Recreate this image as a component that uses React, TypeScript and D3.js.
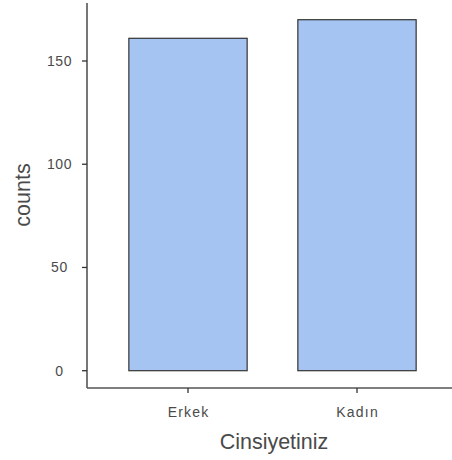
import { scaleBand, scaleLinear } from 'd3';

const categories = ['Erkek', 'Kadın'];
const counts = [161, 170];
const yTicks = [0, 50, 100, 150];

const width = 452;
const height = 460;
const axisX = 87;
const axisY = 388;

export default function App() {
  const xScale = scaleBand<string>()
    .domain(categories)
    .range([103.5, 441.5])
    .paddingInner(0.3)
    .paddingOuter(0.15);

  const yScale = scaleLinear().domain([0, 150]).range([370.7, 61]);

  const font = '"Liberation Sans", Arial, sans-serif';

  return (
    <svg
      width={width}
      height={height}
      viewBox={`0 0 ${width} ${height}`}
      style={{ position: 'absolute', left: 0, top: 0, background: '#ffffff' }}
      fontFamily={font}
    >
      {categories.map((cat, i) => {
        const x = xScale(cat) ?? 0;
        const y = yScale(counts[i]);
        return (
          <rect
            key={cat}
            x={x}
            y={y}
            width={xScale.bandwidth()}
            height={yScale(0) - y}
            fill="#a6c4f1"
            stroke="#333333"
            strokeWidth={1.2}
          />
        );
      })}

      {/* y axis */}
      <line x1={axisX} x2={axisX} y1={3} y2={axisY} stroke="#555555" strokeWidth={1.6} />
      {yTicks.map(tick => (
        <g key={tick}>
          <line x1={axisX - 5} x2={axisX} y1={yScale(tick)} y2={yScale(tick)} stroke="#333333" strokeWidth={1.3} />
          <text x={59.5} y={yScale(tick) + 5} textAnchor="middle" fontSize={14} fill="#4a4a4a" letterSpacing={0.6}>
            {tick}
          </text>
        </g>
      ))}

      {/* x axis */}
      <line x1={axisX} x2={width} y1={axisY} y2={axisY} stroke="#555555" strokeWidth={1.6} />
      {categories.map(cat => {
        const cx = (xScale(cat) ?? 0) + xScale.bandwidth() / 2;
        return (
          <g key={cat}>
            <line x1={cx} x2={cx} y1={axisY} y2={axisY + 5} stroke="#333333" strokeWidth={1.3} />
            <text x={cx + 0.6} y={417} textAnchor="middle" fontSize={14} fill="#4a4a4a" letterSpacing={1.2}>
              {cat}
            </text>
          </g>
        );
      })}

      <text x={274} y={449} textAnchor="middle" fontSize={21.5} fill="#4a4a4a">
        Cinsiyetiniz
      </text>
      <text
        transform={`translate(29.5, 195) rotate(-90)`}
        textAnchor="middle"
        fontSize={21.5}
        fill="#4a4a4a"
      >
        counts
      </text>
    </svg>
  );
}
